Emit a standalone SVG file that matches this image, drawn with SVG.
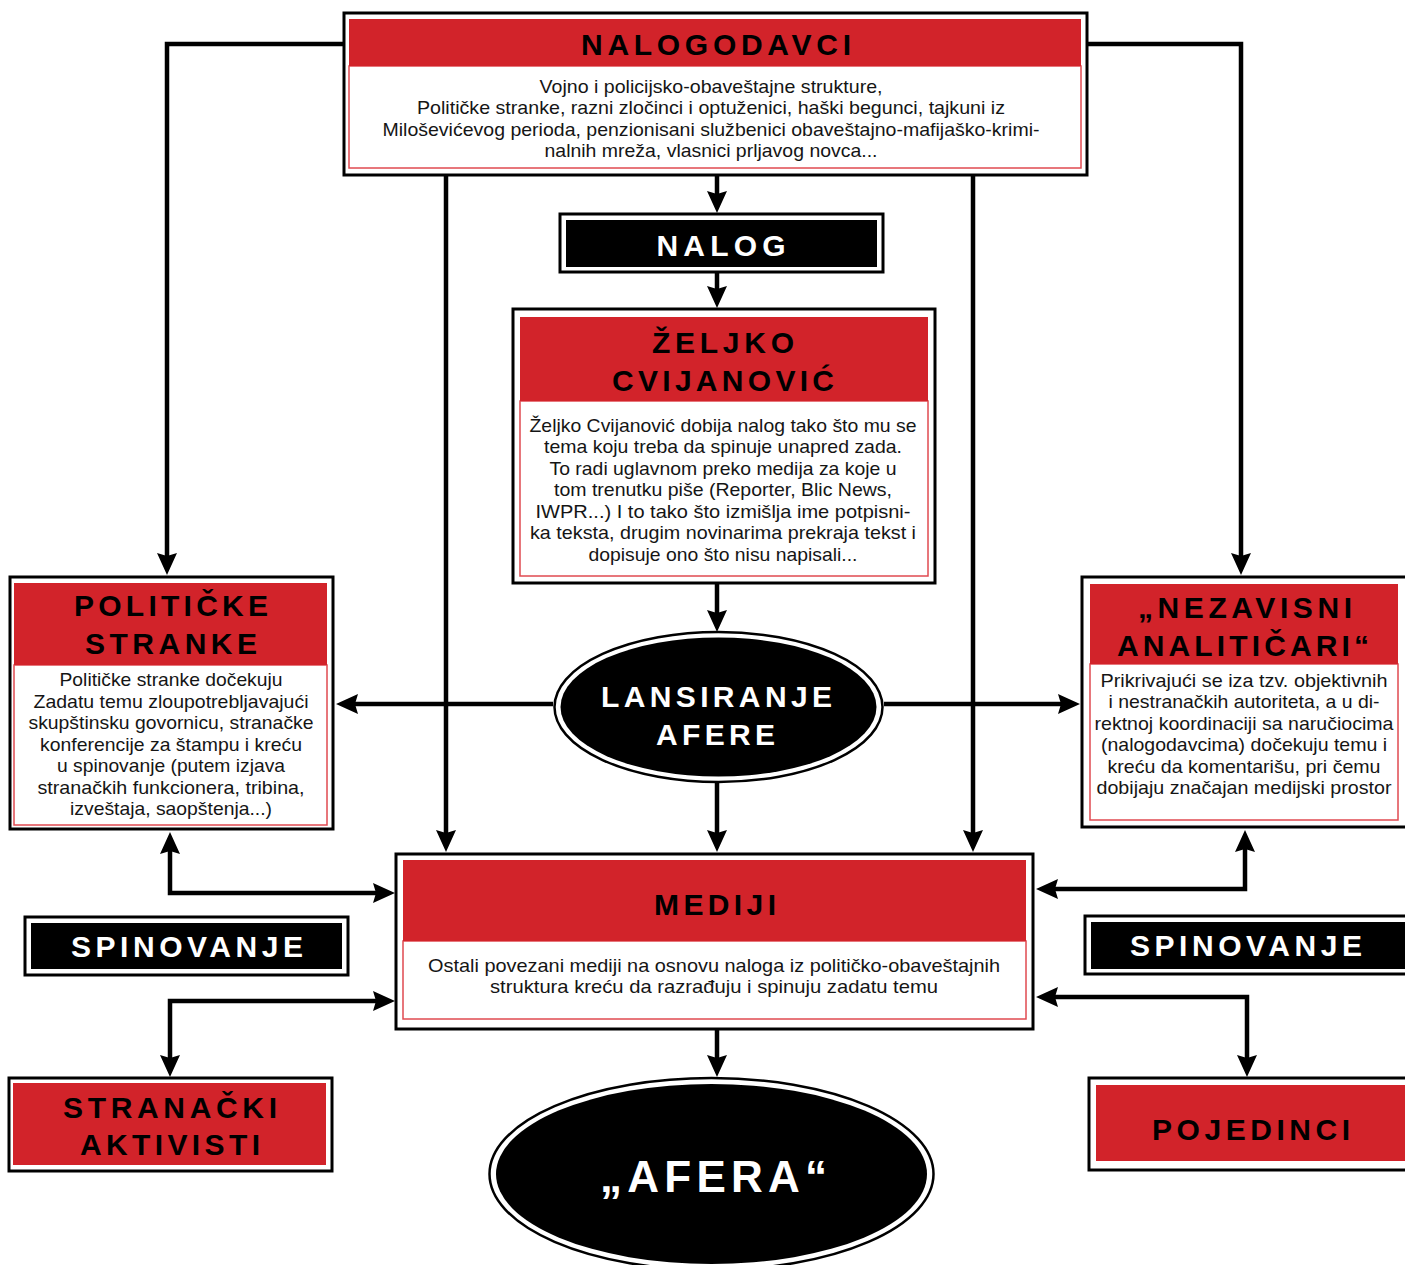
<svg xmlns="http://www.w3.org/2000/svg" width="1405" height="1265" viewBox="0 0 1405 1265">
<defs>
<style>
.outer{fill:#fff;stroke:#000;stroke-width:3}
.hdr{fill:#d2232a}
.body{fill:#fff;stroke:#e04a50;stroke-width:1.5}
.blk{fill:#000}
.t{font-family:"Liberation Sans",Arial,sans-serif;font-weight:bold;font-size:30px;text-anchor:middle;fill:#000}
.tw{fill:#fff}
.b{font-family:"Liberation Sans",Arial,sans-serif;font-size:19px;text-anchor:middle;fill:#151515}
.c{fill:none;stroke:#000;stroke-width:4.5;stroke-linejoin:miter}
</style>
<marker id="ah" markerUnits="userSpaceOnUse" markerWidth="24" markerHeight="22" refX="12" refY="10" orient="auto-start-reverse" viewBox="0 0 24 22">
<path d="M0,0 L22,10 L0,20 L3,10 Z" fill="#000"/>
</marker>
</defs>
<rect width="1405" height="1265" fill="#fff"/>

<g id="connectors">
<path class="c" d="M343,44 H167 V565" marker-end="url(#ah)"/>
<path class="c" d="M1088,44 H1241 V565" marker-end="url(#ah)"/>
<path class="c" d="M446,176 V842" marker-end="url(#ah)"/>
<path class="c" d="M973,176 V842" marker-end="url(#ah)"/>
<path class="c" d="M717,176 V203" marker-end="url(#ah)"/>
<path class="c" d="M717,273 V298" marker-end="url(#ah)"/>
<path class="c" d="M717,584 V622" marker-end="url(#ah)"/>
<path class="c" d="M553,704 H346" marker-end="url(#ah)"/>
<path class="c" d="M884,704 H1070" marker-end="url(#ah)"/>
<path class="c" d="M717,783 V842" marker-end="url(#ah)"/>
<path class="c" d="M170,842 V893 H385" marker-start="url(#ah)" marker-end="url(#ah)"/>
<path class="c" d="M1245,840 V889 H1046" marker-start="url(#ah)" marker-end="url(#ah)"/>
<path class="c" d="M385,1001 H170 V1067" marker-start="url(#ah)" marker-end="url(#ah)"/>
<path class="c" d="M1046,997 H1247 V1067" marker-start="url(#ah)" marker-end="url(#ah)"/>
<path class="c" d="M717,1030 V1067" marker-end="url(#ah)"/>
</g>

<g id="nalogodavci">
<rect class="outer" x="344" y="13" width="743" height="162"/>
<rect class="body" x="349" y="66" width="732" height="102"/>
<rect class="hdr" x="349" y="19" width="732" height="47"/>
<text class="t" x="716" y="55" textLength="270" lengthAdjust="spacing">NALOGODAVCI</text>
<text class="b" x="711" y="93" textLength="343" lengthAdjust="spacingAndGlyphs">Vojno i policijsko-obaveštajne strukture,</text>
<text class="b" x="711" y="114" textLength="588" lengthAdjust="spacingAndGlyphs">Političke stranke, razni zločinci i optuženici, haški begunci, tajkuni iz</text>
<text class="b" x="711" y="136" textLength="657" lengthAdjust="spacingAndGlyphs">Miloševićevog perioda, penzionisani službenici obaveštajno-mafijaško-krimi-</text>
<text class="b" x="711" y="157" textLength="333" lengthAdjust="spacingAndGlyphs">nalnih mreža, vlasnici prljavog novca...</text>
</g>

<g id="nalog">
<rect class="outer" x="560" y="214" width="323" height="58"/>
<rect class="blk" x="566" y="220" width="311" height="47"/>
<text class="t tw" x="721" y="256" textLength="129" lengthAdjust="spacing">NALOG</text>
</g>

<g id="zeljko">
<rect class="outer" x="513" y="309" width="422" height="274"/>
<rect class="body" x="520" y="401" width="408" height="175"/>
<rect class="hdr" x="520" y="317" width="408" height="84"/>
<text class="t" x="723" y="353" textLength="142" lengthAdjust="spacing">ŽELJKO</text>
<text class="t" x="723" y="391" textLength="222" lengthAdjust="spacing">CVIJANOVIĆ</text>
<text class="b" x="723" y="432" textLength="387" lengthAdjust="spacingAndGlyphs">Željko Cvijanović dobija nalog tako što mu se</text>
<text class="b" x="723" y="453" textLength="358" lengthAdjust="spacingAndGlyphs">tema koju treba da spinuje unapred zada.</text>
<text class="b" x="723" y="475" textLength="347" lengthAdjust="spacingAndGlyphs">To radi uglavnom preko medija za koje u</text>
<text class="b" x="723" y="496" textLength="338" lengthAdjust="spacingAndGlyphs">tom trenutku piše (Reporter, Blic News,</text>
<text class="b" x="723" y="518" textLength="375" lengthAdjust="spacingAndGlyphs">IWPR...) I to tako što izmišlja ime potpisni-</text>
<text class="b" x="723" y="539" textLength="386" lengthAdjust="spacingAndGlyphs">ka teksta, drugim novinarima prekraja tekst i</text>
<text class="b" x="723" y="561" textLength="269" lengthAdjust="spacingAndGlyphs">dopisuje ono što nisu napisali...</text>
</g>

<g id="lansiranje">
<ellipse cx="718.5" cy="707" rx="164" ry="75" fill="#fff" stroke="#000" stroke-width="2.5"/>
<ellipse cx="718.5" cy="707" rx="158" ry="69.5" fill="#000"/>
<text class="t tw" x="716.5" y="707" textLength="231" lengthAdjust="spacing">LANSIRANJE</text>
<text class="t tw" x="715.5" y="745" textLength="119" lengthAdjust="spacing">AFERE</text>
</g>

<g id="politicke">
<rect class="outer" x="10" y="577" width="323" height="252"/>
<rect class="body" x="14" y="665" width="313" height="160"/>
<rect class="hdr" x="14" y="583" width="313" height="82"/>
<text class="t" x="171" y="616" textLength="194" lengthAdjust="spacing">POLITIČKE</text>
<text class="t" x="171" y="654" textLength="172" lengthAdjust="spacing">STRANKE</text>
<text class="b" x="171" y="686" textLength="223" lengthAdjust="spacingAndGlyphs">Političke stranke dočekuju</text>
<text class="b" x="171" y="708" textLength="275" lengthAdjust="spacingAndGlyphs">Zadatu temu zloupotrebljavajući</text>
<text class="b" x="171" y="729" textLength="285" lengthAdjust="spacingAndGlyphs">skupštinsku govornicu, stranačke</text>
<text class="b" x="171" y="751" textLength="262" lengthAdjust="spacingAndGlyphs">konferencije za štampu i kreću</text>
<text class="b" x="171" y="772" textLength="228" lengthAdjust="spacingAndGlyphs">u spinovanje (putem izjava</text>
<text class="b" x="171" y="794" textLength="267" lengthAdjust="spacingAndGlyphs">stranačkih funkcionera, tribina,</text>
<text class="b" x="171" y="815" textLength="202" lengthAdjust="spacingAndGlyphs">izveštaja, saopštenja...)</text>
</g>

<g id="nezavisni">
<rect class="outer" x="1082" y="577" width="330" height="250"/>
<rect class="body" x="1090" y="664" width="308" height="156"/>
<rect class="hdr" x="1090" y="584" width="308" height="80"/>
<text class="t" x="1245" y="618" textLength="214" lengthAdjust="spacing">„NEZAVISNI</text>
<text class="t" x="1243" y="656" textLength="252" lengthAdjust="spacing">ANALITIČARI“</text>
<text class="b" x="1244" y="687" textLength="287" lengthAdjust="spacingAndGlyphs">Prikrivajući se iza tzv. objektivnih</text>
<text class="b" x="1244" y="708" textLength="271" lengthAdjust="spacingAndGlyphs">i nestranačkih autoriteta, a u di-</text>
<text class="b" x="1244" y="730" textLength="299" lengthAdjust="spacingAndGlyphs">rektnoj koordinaciji sa naručiocima</text>
<text class="b" x="1244" y="751" textLength="286" lengthAdjust="spacingAndGlyphs">(nalogodavcima) dočekuju temu i</text>
<text class="b" x="1244" y="773" textLength="273" lengthAdjust="spacingAndGlyphs">kreću da komentarišu, pri čemu</text>
<text class="b" x="1244" y="794" textLength="295" lengthAdjust="spacingAndGlyphs">dobijaju značajan medijski prostor</text>
</g>

<g id="mediji">
<rect class="outer" x="396" y="854" width="637" height="175"/>
<rect class="body" x="403" y="941" width="623" height="78"/>
<rect class="hdr" x="403" y="860" width="623" height="81"/>
<text class="t" x="715" y="915" textLength="122" lengthAdjust="spacing">MEDIJI</text>
<text class="b" x="714" y="972" textLength="572" lengthAdjust="spacingAndGlyphs">Ostali povezani mediji na osnovu naloga iz političko-obaveštajnih</text>
<text class="b" x="714" y="993" textLength="448" lengthAdjust="spacingAndGlyphs">struktura kreću da razrađuju i spinuju zadatu temu</text>
</g>

<g id="spinovanje-left">
<rect class="outer" x="25" y="917" width="323" height="58"/>
<rect class="blk" x="31" y="923" width="311" height="46"/>
<text class="t tw" x="187" y="957" textLength="232" lengthAdjust="spacing">SPINOVANJE</text>
</g>

<g id="spinovanje-right">
<rect class="outer" x="1085" y="916" width="330" height="58"/>
<rect class="blk" x="1091" y="922" width="320" height="47"/>
<text class="t tw" x="1246" y="956" textLength="232" lengthAdjust="spacing">SPINOVANJE</text>
</g>

<g id="stranacki-aktivisti">
<rect class="outer" x="9" y="1078" width="323" height="93"/>
<rect class="hdr" x="13" y="1083" width="313" height="82"/>
<text class="t" x="170" y="1118" textLength="214" lengthAdjust="spacing">STRANAČKI</text>
<text class="t" x="170" y="1155" textLength="180" lengthAdjust="spacing">AKTIVISTI</text>
</g>

<g id="pojedinci">
<rect class="outer" x="1089" y="1078" width="330" height="92"/>
<rect class="hdr" x="1096" y="1085" width="320" height="76"/>
<text class="t" x="1251" y="1140" textLength="198" lengthAdjust="spacing">POJEDINCI</text>
</g>

<g id="afera">
<ellipse cx="711.5" cy="1174" rx="222" ry="96" fill="#fff" stroke="#000" stroke-width="2.5"/>
<ellipse cx="711.5" cy="1174" rx="215.5" ry="90" fill="#000"/>
<text class="t tw" x="713.5" y="1192" style="font-size:44px" textLength="227" lengthAdjust="spacing">„AFERA“</text>
</g>
</svg>
